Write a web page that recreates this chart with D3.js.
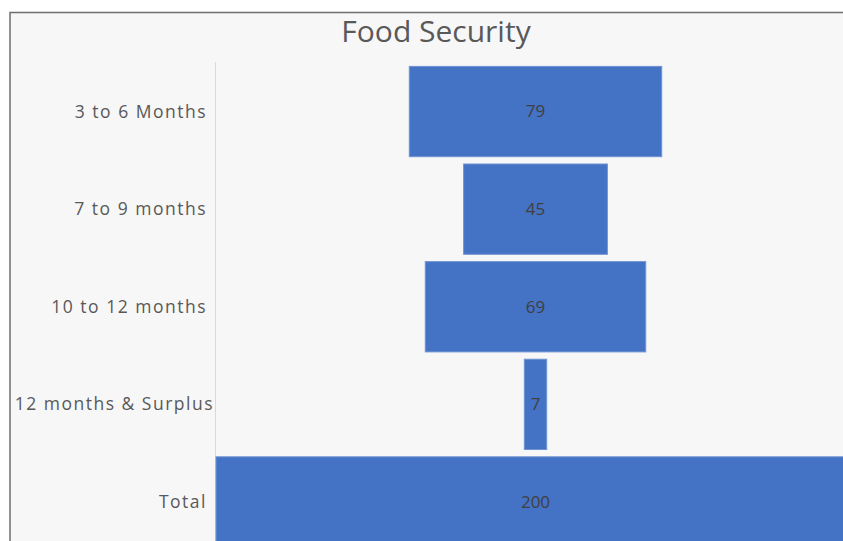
<!DOCTYPE html>
<html>
<head>
<meta charset="utf-8">
<script src="https://cdn.jsdelivr.net/npm/d3@7"></script>
<style>
  body { margin: 0; background: #fff; }
  svg { display: block; }
</style>
</head>
<body>
<div id="chart"></div>
<script>
// funnel data
var categories = ["3 to 6 Months", "7 to 9 months", "10 to 12 months", "12 months & Surplus", "Total"];
var values = [79, 45, 69, 7, 200];

var width = 843, height = 541;
var svg = d3.select("#chart").append("svg")
    .attr("width", width)
    .attr("height", height);

// chart frame (only top/left edges visible in the crop)
svg.append("rect")
    .attr("x", 10).attr("y", 12.5)
    .attr("width", 900).attr("height", 600)
    .attr("fill", "#f7f7f7")
    .attr("stroke", "#6e6e6e")
    .attr("stroke-width", 1.5);

svg.append("text")
    .attr("x", 436).attr("y", 42)
    .attr("text-anchor", "middle")
    .attr("font-family", "Open Sans, sans-serif")
    .attr("font-size", 30)
    .attr("fill", "#595959")
    .text("Food Security");

var axisX = 215.5;
var centerX = 535.5;

var y = d3.scaleBand()
    .domain(categories)
    .range([62.5, 551])
    .paddingInner(0.075)
    .paddingOuter(0.04);

var w = d3.scaleLinear().domain([0, 200]).range([0, 639]);

// category axis
svg.append("line")
    .attr("x1", axisX).attr("x2", axisX)
    .attr("y1", 62).attr("y2", height)
    .attr("stroke", "#d9d9d9")
    .attr("stroke-width", 1);

var rows = categories.map(function(c, i) { return { cat: c, val: values[i] }; });

svg.append("g").selectAll("rect")
    .data(rows)
    .enter().append("rect")
    .attr("x", function(d) { return centerX - w(d.val) / 2; })
    .attr("y", function(d) { return y(d.cat); })
    .attr("width", function(d) { return w(d.val); })
    .attr("height", y.bandwidth())
    .attr("fill", "#4472c4")
    .attr("stroke", "#6f93d3")
    .attr("stroke-width", 1);

svg.append("g").selectAll("text")
    .data(rows)
    .enter().append("text")
    .attr("x", centerX)
    .attr("y", function(d) { return y(d.cat) + y.bandwidth() / 2; })
    .attr("dy", "0.35em")
    .attr("text-anchor", "middle")
    .attr("font-family", "Open Sans, sans-serif")
    .attr("font-size", 17)
    .attr("fill", "#404040")
    .text(function(d) { return d.val; });

svg.append("g").selectAll("text")
    .data(categories)
    .enter().append("text")
    .attr("x", function(d) { return d.length > 16 ? 214 : 207; })
    .attr("y", function(d) { return y(d) + y.bandwidth() / 2; })
    .attr("dy", "0.35em")
    .attr("text-anchor", "end")
    .attr("font-family", "Open Sans, sans-serif")
    .attr("font-size", 17.5)
    .attr("letter-spacing", 1.5)
    .attr("fill", "#595959")
    .text(function(d) { return d; });
</script>
</body>
</html>
